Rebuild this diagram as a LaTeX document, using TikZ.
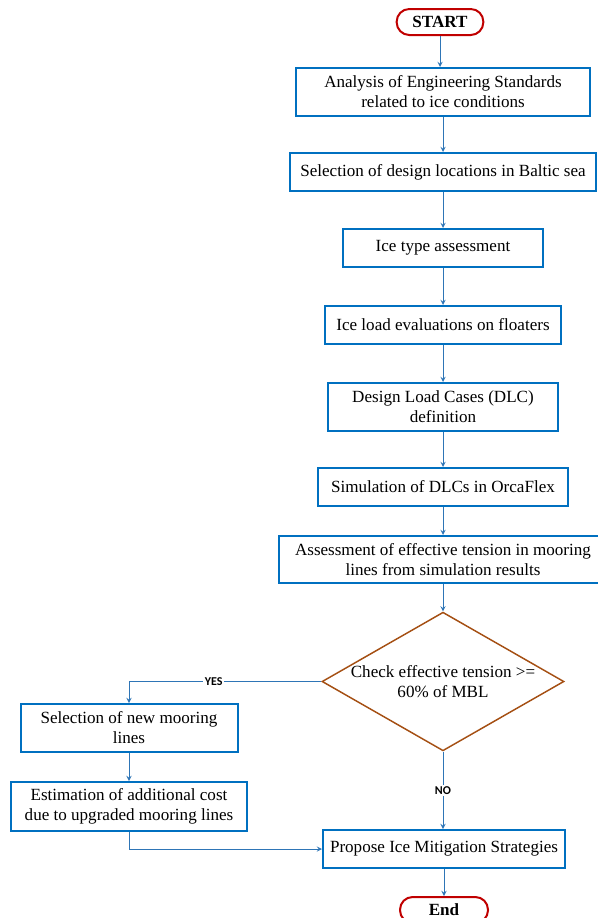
\documentclass[tikz,border=0pt]{standalone}
\usepackage{fontspec}
\setmainfont{Liberation Serif}
\newfontfamily\tagfont{Carlito}
\usetikzlibrary{shapes.geometric}

\definecolor{boxblue}{RGB}{0,112,192}
\definecolor{linkblue}{RGB}{46,117,182}
\definecolor{termred}{RGB}{192,0,0}
\definecolor{checkbrown}{RGB}{165,80,20}

\tikzset{
  every step/.style={draw=boxblue, line width=1.5pt, fill=white, align=center,
    inner sep=2pt, font=\fontsize{12.8}{15}\selectfont},
  terminal/.style={draw=termred, line width=1.5pt, rounded corners=9.5pt,
    minimum width=65pt, minimum height=19.5pt, inner sep=1pt,
    font=\fontsize{12.8}{15}\selectfont\bfseries},
  decision/.style={diamond, draw=checkbrown, line width=1.1pt,
    minimum width=181.5pt, minimum height=104pt, inner sep=0pt},
  link/.style={->, draw=linkblue, line width=0.75pt},
  answer/.style={font=\tagfont\bfseries\fontsize{9}{10}\selectfont,
    fill=white, inner sep=1pt}
}

\begin{document}
\begin{tikzpicture}[x=0.75pt, y=-0.75pt, >=stealth]
\useasboundingbox (0,0) rectangle (597,918);

\node [terminal] (start) at (440,22) {START};

\foreach \t/\y/\w/\h [count=\i] in {
    Analysis of Engineering Standards\\related to ice conditions/92/220.5/36,
    Selection of design locations in Baltic sea/172/229.5/28.5,
    Ice type assessment/248/150/28.5,
    Ice load evaluations on floaters/325/177/28.5,
    Design Load Cases (DLC)\\definition/407/172.5/36,
    Simulation of DLCs in OrcaFlex/487/187.5/28.5,
    Assessment of effective tension in mooring\\lines from simulation results/559.5/246/35.25}
  \node [every step, minimum width=\w pt, minimum height=\h pt] (step-\i) at (443,\y) {\t};

\node [decision] (check) at (443,681.5) {};
\node [align=center, font=\fontsize{12.8}{15}\selectfont] (check-text) at (check.center)
  {Check effective tension >=\\60\% of MBL};

\node [every step, minimum width=162.75pt, minimum height=36pt] (new-lines) at (129,728)
  {Selection of new mooring\\lines};
\node [every step, minimum width=177pt, minimum height=36.75pt] (cost) at (129,806.5)
  {Estimation of additional cost\\due to upgraded mooring lines};
\node [every step, minimum width=181.5pt, minimum height=28.5pt] (propose) at (444,849)
  {Propose Ice Mitigation Strategies};

\node [terminal, minimum width=66pt] (end) at (444,910) {End};

\draw [link] (start) -- (start |- step-1.north);

\foreach \i [count=\j from 2] in {1,...,6}
  \draw [link] (step-\i) -- (step-\j);

\draw [link] (step-7) -- (check);

\draw [link] (check.west) -| (new-lines.north)
  node [answer, pos=0.28] {YES};
\draw [link] (check.south) -- (check.south |- propose.north)
  node [answer, midway] {NO};

\draw [link] (new-lines) -- (cost);
\draw [link] (cost.south) |- (propose.west);
\draw [link] (propose) -- (end);

\end{tikzpicture}
\end{document}
